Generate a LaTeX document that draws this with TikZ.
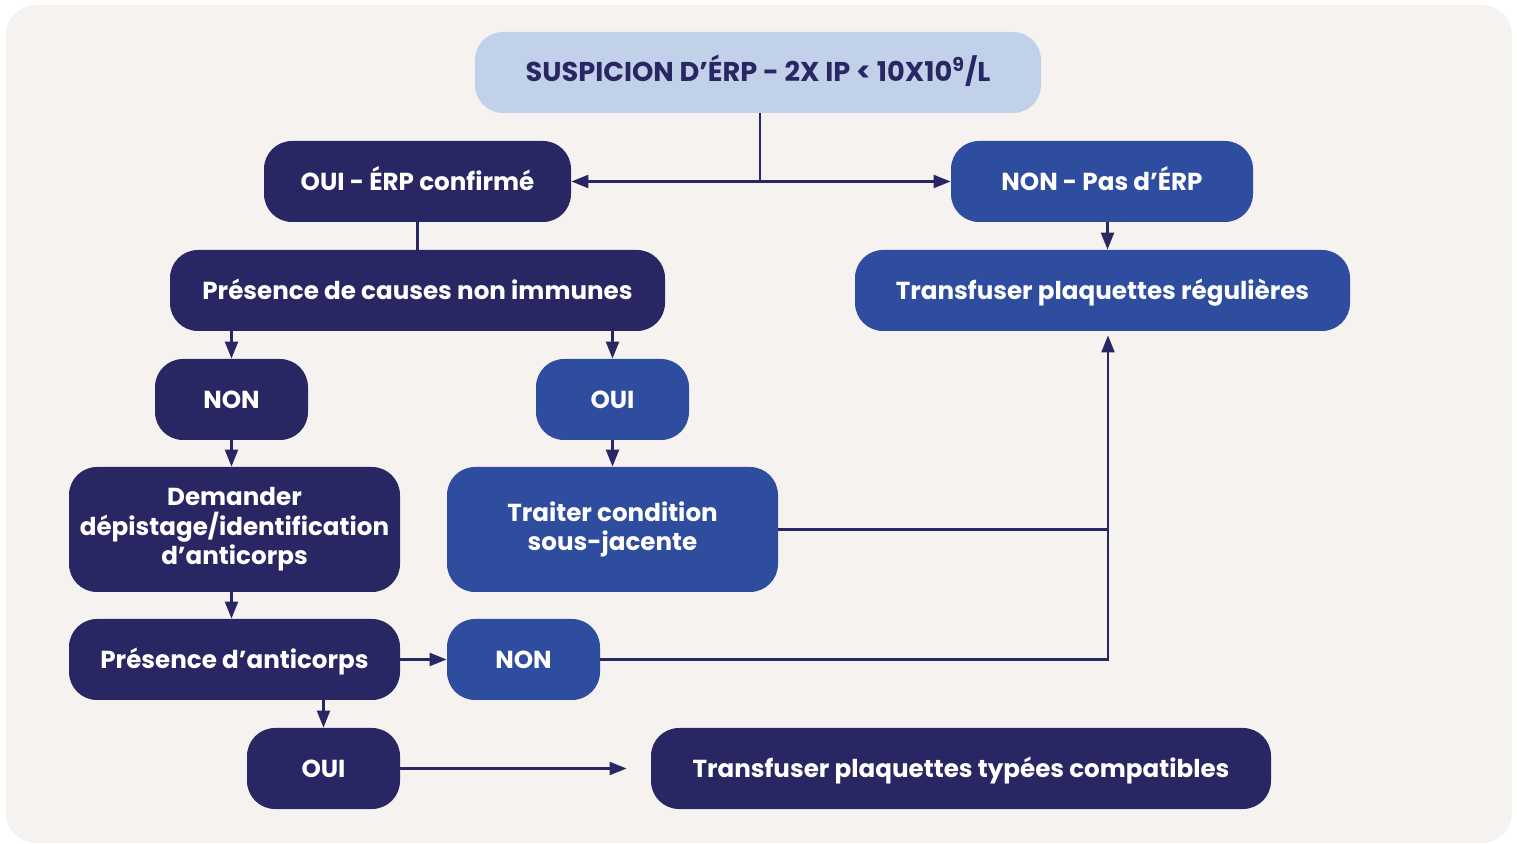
\documentclass[tikz,border=0pt]{standalone}
\usepackage{fontspec}
\setmainfont{Poppins}
\usetikzlibrary{arrows.meta}
\definecolor{navy}{HTML}{292763}
\definecolor{midblue}{HTML}{2F4D9F}
\definecolor{lightblue}{HTML}{C2D1EA}
\definecolor{bgpanel}{HTML}{F6F2EF}
\newcommand{\fs}{\fontsize{12.3pt}{14.75pt}\selectfont\bfseries}
\newcommand{\fstop}{\fontsize{13.6pt}{14.75pt}\selectfont\bfseries}
\tikzset{
  boxbase/.style={rounded corners=14pt, minimum height=40.5pt, inner sep=0pt, font=\fs, text=white, align=center},
  box/.style={boxbase, text height=8.6pt, text depth=0pt},
  darkbox/.style={box, fill=navy},
  midbox/.style={box, fill=midblue},
  darkmulti/.style={boxbase, fill=navy, minimum height=62.5pt},
  midmulti/.style={boxbase, fill=midblue, minimum height=62.5pt},
  topbox/.style={box, fill=lightblue, text=navy, font=\fstop, text height=9.5pt},
  link/.style={draw=navy, line width=1.1pt},
  arr/.style={link, -{Triangle[length=8.5pt,width=6.5pt]}},
}
\begin{document}
\begin{tikzpicture}[x=0.5pt,y=-0.5pt]
\useasboundingbox (0,0) rectangle (1517,844);
\fill[white] (0,0) rectangle (1517,844);
\fill[bgpanel, rounded corners=15pt] (6,5) rectangle (1512,843);

\node[topbox, minimum width=283pt] (top) at (758,72.5) {SUSPICION D’ÉRP - 2X IP < 10X10\textsuperscript{9}/L};
\node[darkbox, minimum width=153.5pt] (oui1) at (417.5,181.5) {OUI - ÉRP confirmé};
\node[midbox, minimum width=151pt] (non1) at (1102,181.5) {NON - Pas d’ÉRP};
\node[darkbox, minimum width=247.5pt] (pres) at (417.5,290.5) {Présence de causes non immunes};
\node[midbox, minimum width=247.5pt] (trans) at (1102.5,290.5) {Transfuser plaquettes régulières};
\node[darkbox, minimum width=76.5pt] (non2) at (231.5,399.5) {NON};
\node[midbox, minimum width=76.5pt] (oui2) at (612.5,399.5) {OUI};
\node[darkmulti, minimum width=165.5pt] (dem) at (234.5,529.5) {Demander\\dépistage/identification\\d’anticorps};
\node[midmulti, minimum width=165.5pt] (trt) at (612.5,529.5) {Traiter condition\\sous-jacente};
\node[darkbox, minimum width=165.5pt] (pa) at (234.5,659.5) {Présence d’anticorps};
\node[midbox, minimum width=76.5pt] (non3) at (523.5,659.5) {NON};
\node[darkbox, minimum width=76.5pt] (oui3) at (323.5,768.5) {OUI};
\node[darkbox, minimum width=310pt] (tc) at (961,768.5) {Transfuser plaquettes typées compatibles};

% top split
\coordinate (j) at ([xshift=1pt]top.south |- oui1.east);
\draw[link] ([xshift=1pt]top.south) -- (j);
\draw[arr] (j) -- (oui1.east);
\draw[arr] (j) -- (non1.west);

\draw[link] (oui1.south) -- (pres.north);
\draw[arr] ([xshift=2.75pt]non1.south) -- ([xshift=2.75pt]non1.south |- trans.north);

\draw[arr] (pres.south -| non2.north) -- (non2.north);
\draw[arr] (pres.south -| oui2.north) -- (oui2.north);
\draw[arr] (non2.south) -- (non2.south |- dem.north);
\draw[arr] (oui2.south) -- (oui2.south |- trt.north);
\draw[arr] (dem.south -| non2.south) -- (pa.north -| non2.south);
\draw[arr] (pa.east) -- (non3.west);
\draw[arr] (pa.south -| oui3.north) -- (oui3.north);
\draw[arr, shorten >=12pt] (oui3.east) -- (tc.west);

\coordinate (col) at ([xshift=2.75pt]trans.south);
\draw[link] (trt.east) -- (trt.east -| col);
\draw[arr, shorten >=2pt] (non3.east) -| (col);
\end{tikzpicture}
\end{document}
